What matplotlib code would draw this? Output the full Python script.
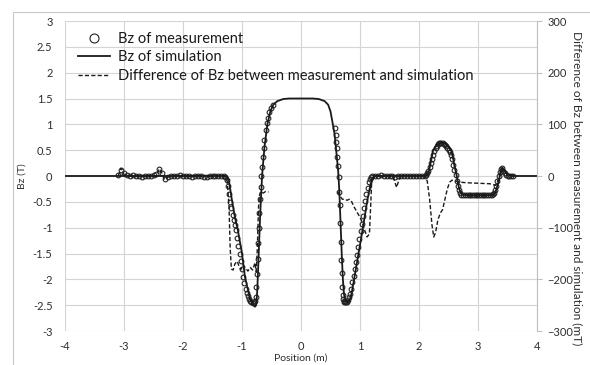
import numpy as np
import matplotlib
matplotlib.use('Agg')
import matplotlib.pyplot as plt
from matplotlib.patches import Rectangle

plt.rcParams['font.family'] = ['Lato', 'DejaVu Sans']

# simulated Bz (T) along the position (m)
sim_pos = [-4.0, -1.30, -1.25, -1.22, -1.18, -1.12, -1.07, -1.00, -0.95, -0.90, -0.86,
           -0.82, -0.78, -0.76, -0.745, -0.73, -0.71, -0.69, -0.66, -0.62, -0.57, -0.52,
           -0.47, -0.40, -0.30, -0.20, 0.0, 0.20, 0.30, 0.40, 0.46, 0.50, 0.54, 0.57,
           0.60, 0.63, 0.65, 0.67, 0.69, 0.71, 0.73, 0.76, 0.80, 0.84, 0.90, 0.96,
           1.05, 1.12, 1.18, 1.24, 2.12, 2.17, 2.24, 2.30, 2.38, 2.45, 2.52, 2.56,
           2.60, 2.64, 2.68, 2.73, 2.80, 3.25, 3.30, 3.35, 3.38, 3.41, 3.45, 3.50,
           3.60, 4.0]
sim_bz = [0.0, 0.0, -0.01, -0.1, -0.4, -0.8, -1.05, -1.5, -1.95, -2.2, -2.38,
          -2.48, -2.53, -2.5, -2.3, -1.9, -1.3, -0.7, 0.0, 0.55, 1.0, 1.25,
          1.38, 1.45, 1.49, 1.5, 1.5, 1.5, 1.49, 1.45, 1.38, 1.25, 1.0, 0.8,
          0.45, 0.1, -0.3, -0.9, -1.5, -2.0, -2.3, -2.42, -2.44, -2.38, -2.0, -1.6,
          -1.0, -0.5, -0.15, 0.0, 0.0, 0.1, 0.5, 0.6, 0.65, 0.63, 0.55, 0.45,
          0.2, 0.0, -0.25, -0.36, -0.37, -0.37, -0.3, -0.1, 0.05, 0.15, 0.1, 0.03,
          0.0, 0.0]

# measured Bz (T)
meas_pos = [-3.10, -3.05, -3.00, -2.95, -2.90, -2.85, -2.80, -2.75, -2.70, -2.65, -2.60,
            -2.55, -2.50, -2.45, -2.40, -2.35, -2.30, -2.25, -2.20, -2.15, -2.10, -2.05,
            -2.00, -1.95, -1.90, -1.85, -1.80, -1.75, -1.70, -1.65, -1.60, -1.55, -1.50,
            -1.45, -1.40, -1.35, -1.30,
            -1.28, -1.26, -1.24, -1.22, -1.20, -1.18, -1.16, -1.14, -1.12, -1.10, -1.08,
            -1.06, -1.04, -1.02, -1.00, -0.98, -0.96, -0.94, -0.92, -0.90, -0.88, -0.86,
            -0.84, -0.82, -0.80, -0.78,
            -0.77, -0.755, -0.745, -0.735, -0.725, -0.715, -0.705, -0.695, -0.685, -0.672,
            -0.66, -0.648, -0.635, -0.62, -0.60, -0.58, -0.56, -0.54, -0.51, -0.48,
            0.575, 0.585, 0.595, 0.605, 0.615, 0.625, 0.638, 0.648, 0.656, 0.664, 0.672,
            0.68, 0.688, 0.696, 0.705, 0.715, 0.725, 0.735, 0.745, 0.76, 0.775, 0.79,
            0.81, 0.83, 0.85, 0.87, 0.89, 0.91, 0.93, 0.95, 0.97, 0.99, 1.01, 1.03,
            1.05, 1.07, 1.09, 1.11, 1.13, 1.15, 1.17, 1.19, 1.21,
            1.25, 1.30, 1.35, 1.40, 1.45, 1.50, 1.55, 1.60, 1.65, 1.70, 1.75, 1.80,
            1.85, 1.90, 1.95, 2.00, 2.05, 2.10,
            2.12, 2.14, 2.16, 2.18, 2.20, 2.22, 2.24, 2.26, 2.28, 2.30, 2.32, 2.34,
            2.36, 2.38, 2.40, 2.42, 2.44, 2.46, 2.48, 2.50, 2.52, 2.54, 2.56, 2.58,
            2.60, 2.62, 2.64, 2.66, 2.68, 2.70, 2.72,
            2.75, 2.78, 2.81, 2.84, 2.87, 2.90, 2.93, 2.96, 2.99, 3.02, 3.05, 3.08,
            3.11, 3.14, 3.17, 3.20, 3.23, 3.25, 3.27, 3.29, 3.31, 3.33, 3.35, 3.37,
            3.39, 3.41, 3.43, 3.45, 3.47, 3.50, 3.53, 3.56, 3.60]
meas_bz = [0.01, 0.12, 0.05, 0.02, 0.0, 0.01, 0.0, 0.0, -0.01, 0.0, 0.0,
           0.0, 0.01, 0.03, 0.13, 0.06, -0.05, -0.02, 0.0, 0.0, 0.0, 0.01,
           0.0, 0.0, 0.0, -0.01, 0.0, 0.0, 0.0, -0.01, -0.02, 0.0, 0.0,
           0.0, 0.0, 0.0, 0.0,
           -0.02, -0.08, -0.2, -0.35, -0.5, -0.62, -0.75, -0.85, -0.95, -1.05, -1.2,
           -1.35, -1.5, -1.65, -1.8, -1.95, -2.08, -2.18, -2.27, -2.33, -2.38, -2.41,
           -2.44, -2.45, -2.44, -2.42,
           -2.35, -2.15, -1.9, -1.6, -1.3, -1.0, -0.72, -0.45, -0.22, 0.0,
           0.18, 0.37, 0.54, 0.7, 0.89, 1.02, 1.13, 1.23, 1.31, 1.38,
           0.93, 0.79, 0.66, 0.54, 0.37, 0.19, -0.02, -0.3, -0.56, -0.9, -1.27,
           -1.62, -1.88, -2.14, -2.3, -2.38, -2.42, -2.43, -2.44, -2.44, -2.43, -2.4,
           -2.35, -2.28, -2.18, -2.06, -1.94, -1.8, -1.66, -1.52, -1.37, -1.22, -1.07, -0.92,
           -0.77, -0.62, -0.48, -0.35, -0.23, -0.12, -0.05, -0.01, 0.0,
           0.0, 0.0, 0.01, 0.0, 0.0, 0.0, 0.0, -0.01, 0.0, 0.0, 0.0, 0.0,
           0.0, 0.0, 0.0, 0.0, 0.0, 0.0,
           0.02, 0.05, 0.1, 0.17, 0.25, 0.33, 0.41, 0.48, 0.54, 0.58, 0.61, 0.63,
           0.64, 0.64, 0.63, 0.62, 0.6, 0.58, 0.55, 0.51, 0.46, 0.4, 0.32, 0.22,
           0.12, 0.01, -0.1, -0.2, -0.28, -0.33, -0.36,
           -0.37, -0.37, -0.37, -0.37, -0.37, -0.37, -0.37, -0.37, -0.37, -0.37, -0.37, -0.37,
           -0.37, -0.37, -0.37, -0.37, -0.36, -0.35, -0.33, -0.27, -0.19, -0.1, 0.0, 0.08,
           0.14, 0.15, 0.1, 0.05, 0.02, 0.0, 0.0, 0.0, 0.0]

# difference measurement - simulation (mT), gap over the plateau
diff_pos = [-3.10, -3.07, -3.05, -3.02, -3.00, -2.90, -2.45, -2.42, -2.39, -2.36, -2.32,
            -2.28, -2.20, -1.60, -1.58, -1.55, -1.30, -1.25, -1.22, -1.20, -1.18, -1.15,
            -1.12, -1.08, -1.05, -1.02, -0.98, -0.94, -0.90, -0.86, -0.82, -0.78, -0.76,
            -0.74, -0.72, -0.70, -0.68, -0.64, -0.60, -0.55, -0.50,
            0.62, 0.66, 0.70, 0.74, 0.78, 0.82, 0.86, 0.90, 0.95, 1.00, 1.04, 1.08,
            1.12, 1.16, 1.18, 1.20, 1.25, 1.55, 1.58, 1.62, 1.66, 1.70, 2.10, 2.14,
            2.18, 2.22, 2.25, 2.28, 2.32, 2.36, 2.40, 2.44, 2.48, 2.52, 2.56, 2.62,
            2.70, 2.80, 3.00, 3.20, 3.30, 3.34, 3.38, 3.41, 3.45, 3.50, 3.60]
diff_mt = [0, 8, 15, 10, 2, 0, 0, 10, 14, 6, -6,
           -3, 0, 0, -3, 0, 0, -10, -60, -140, -180, -182,
           -170, -165, -175, -181, -172, -178, -184, -177, -182, -168, -185,
           -140, -60, -35, -30, -33, -30, -31, np.nan,
           -30, -38, -45, -45, -47, -45, -50, -60, -70, -80, -90, -105,
           -118, -112, -60, -5, 0, 0, -8, -22, -8, 0, 0, -10,
           -45, -95, -118, -110, -85, -72, -65, -45, -25, -12, -8, -10,
           -12, -13, -14, -15, -18, -8, 8, 15, 8, 2, 0]

x_ticks = [-4, -3, -2, -1, 0, 1, 2, 3, 4]
y_ticks = [-3, -2.5, -2, -1.5, -1, -0.5, 0, 0.5, 1, 1.5, 2, 2.5, 3]
y2_ticks = [-300, -200, -100, 0, 100, 200, 300]

grid_c = '#d4d4d4'
text_c = '#2e2e2e'

fig = plt.figure(figsize=(5.9, 3.65), dpi=100)
ax = fig.add_axes([65 / 590, 1 - 331 / 365, 472 / 590, 310 / 365])
ax2 = ax.twinx()

# outer chart border (Excel chart area)
fig.patches.append(Rectangle((13 / 590, -0.2), 1.5, 1.2 - 12 / 365, transform=fig.transFigure,
                             fill=False, edgecolor='#c8c8c8', lw=0.8))

ax.plot(meas_pos, meas_bz, linestyle='None', marker='o', markersize=3.4,
        markerfacecolor='none', markeredgecolor='#222222', markeredgewidth=0.8,
        label='Bz of measurement', zorder=3)
ax.plot(sim_pos, sim_bz, color='#1a1a1a', lw=1.3, label='Bz of simulation', zorder=4)
ax2.plot(diff_pos, diff_mt, color='#1a1a1a', lw=1.0, dashes=(3, 1.6),
         label='Difference of Bz between measurement and simulation')

ax.set_xlim(-4, 4)
ax.set_ylim(-3, 3)
ax2.set_ylim(-300, 300)
ax.set_xticks(x_ticks)
ax.set_xticklabels([str(t) for t in x_ticks])
ax.set_yticks(y_ticks)
ax.set_yticklabels(['%g' % t for t in y_ticks])
ax2.set_yticks(y2_ticks)

ax.grid(True, color=grid_c, lw=0.8)
ax.set_axisbelow(True)
for s in ax.spines.values():
    s.set_visible(False)
for s in ax2.spines.values():
    s.set_visible(False)
ax2.spines['right'].set_visible(True)
ax2.spines['right'].set_color('#bfbfbf')
ax2.spines['right'].set_linewidth(0.8)

ax.tick_params(axis='both', length=0, labelsize=8, colors=text_c)
ax.tick_params(axis='y', pad=9)
ax.tick_params(axis='x', pad=7)
ax2.tick_params(axis='y', length=3.5, width=0.8, color='#bfbfbf', labelsize=8,
                labelcolor=text_c, pad=4)

ax.set_xlabel('Position (m)', fontsize=7.5, color=text_c, va='center')
ax.xaxis.set_label_coords(0.5, -0.087)
ax.set_ylabel('Bz (T)', fontsize=7.5, color=text_c)
ax.yaxis.set_label_coords(-0.081, 0.5)
ax2.set_ylabel('Difference of Bz between measurement and simulation (mT)',
               fontsize=8.6, color=text_c, rotation=-90, va='center')
ax2.yaxis.set_label_coords(1.085, 0.46)

h1, l1 = ax.get_legend_handles_labels()
h2, l2 = ax2.get_legend_handles_labels()
leg = ax2.legend(h1 + h2, l1 + l2, loc='upper left', bbox_to_anchor=(0.0, 1.008),
                 frameon=False, fontsize=10.5, handlelength=2.2, handletextpad=0.55,
                 labelspacing=0.32, markerscale=1.9)
for t in leg.get_texts():
    t.set_color('#1a1a1a')

fig.savefig('out.png', dpi=100)
